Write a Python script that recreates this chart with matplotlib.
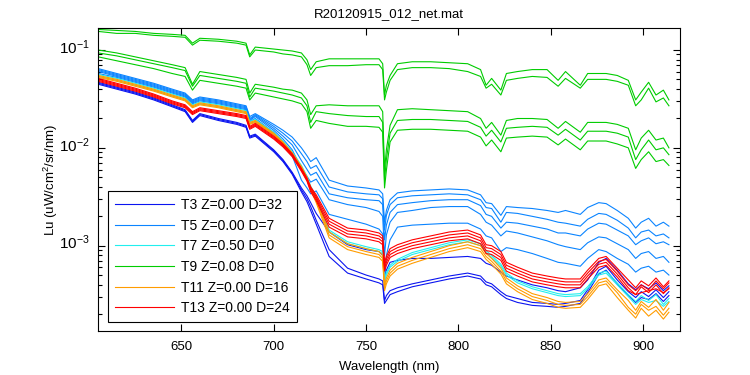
import numpy as np
import matplotlib
matplotlib.use("Agg")
import matplotlib.pyplot as plt
import matplotlib.transforms as mtransforms
from matplotlib.ticker import FuncFormatter, LogLocator, NullFormatter

plt.rcParams['font.family'] = ['Liberation Sans', 'DejaVu Sans']
plt.rcParams['mathtext.fontset'] = 'custom'
plt.rcParams['mathtext.rm'] = 'Liberation Sans'
plt.rcParams['mathtext.it'] = 'Liberation Sans:italic'
plt.rcParams['mathtext.default'] = 'regular'

# wavelength grid (nm) shared by all spectra
wavelength = [605, 615, 625, 635, 645, 652, 656, 660, 670, 680,
              685, 687, 690, 700, 705, 710, 715, 718, 720, 723,
              730, 740, 750, 757, 759, 760, 761, 763, 767, 775,
              785, 795, 805, 812, 815, 818, 823, 826, 832, 840,
              848, 854, 858, 866, 870, 876, 880, 886, 892, 896,
              899, 903, 907, 911, 914]

# log10 of Lu, one row per cast
t3_log = [
    [-1.33, -1.38, -1.43, -1.49, -1.56, -1.61, -1.72, -1.65, -1.70, -1.74,
     -1.77, -1.88, -1.86, -2.02, -2.12, -2.25, -2.41, -2.49, -2.56, -2.67,
     -2.86, -2.99, -3.04, -3.06, -3.10, -3.30, -3.25, -3.17, -3.15, -3.13,
     -3.13, -3.12, -3.11, -3.13, -3.18, -3.20, -3.27, -3.31, -3.35, -3.40,
     -3.43, -3.46, -3.47, -3.43, -3.35, -3.17, -3.13, -3.25, -3.39, -3.45,
     -3.40, -3.44, -3.38, -3.46, -3.41],
    [-1.34, -1.39, -1.44, -1.50, -1.57, -1.62, -1.73, -1.66, -1.71, -1.75,
     -1.78, -1.89, -1.87, -2.03, -2.13, -2.26, -2.43, -2.52, -2.60, -2.74,
     -3.04, -3.23, -3.30, -3.34, -3.36, -3.56, -3.51, -3.46, -3.43, -3.39,
     -3.35, -3.31, -3.28, -3.31, -3.37, -3.39, -3.47, -3.51, -3.54, -3.58,
     -3.59, -3.60, -3.59, -3.56, -3.45, -3.25, -3.21, -3.35, -3.47, -3.53,
     -3.47, -3.52, -3.45, -3.53, -3.47],
    [-1.35, -1.40, -1.45, -1.51, -1.58, -1.63, -1.74, -1.67, -1.72, -1.76,
     -1.79, -1.90, -1.88, -2.04, -2.14, -2.27, -2.45, -2.55, -2.64, -2.78,
     -3.11, -3.28, -3.34, -3.38, -3.40, -3.59, -3.56, -3.50, -3.47, -3.42,
     -3.38, -3.34, -3.31, -3.34, -3.40, -3.42, -3.50, -3.54, -3.58, -3.61,
     -3.62, -3.63, -3.62, -3.59, -3.48, -3.29, -3.25, -3.39, -3.51, -3.58,
     -3.53, -3.55, -3.49, -3.57, -3.51],
]

t5_log = [
    [-1.19, -1.24, -1.29, -1.34, -1.40, -1.44, -1.51, -1.48, -1.51, -1.55,
     -1.57, -1.68, -1.65, -1.76, -1.82, -1.89, -2.00, -2.08, -2.14, -2.10,
     -2.33, -2.39, -2.41, -2.43, -2.47, -2.76, -2.64, -2.53, -2.46, -2.44,
     -2.43, -2.42, -2.43, -2.48, -2.56, -2.57, -2.69, -2.60, -2.61, -2.62,
     -2.64, -2.66, -2.64, -2.68, -2.61, -2.56, -2.57, -2.64, -2.72, -2.82,
     -2.76, -2.72, -2.80, -2.76, -2.80],
    [-1.20, -1.25, -1.30, -1.35, -1.41, -1.45, -1.52, -1.49, -1.52, -1.56,
     -1.58, -1.70, -1.66, -1.78, -1.85, -1.93, -2.06, -2.14, -2.21, -2.18,
     -2.40, -2.45, -2.47, -2.48, -2.52, -2.84, -2.69, -2.58, -2.51, -2.49,
     -2.48, -2.47, -2.48, -2.53, -2.61, -2.62, -2.76, -2.66, -2.67, -2.70,
     -2.73, -2.76, -2.77, -2.80, -2.73, -2.67, -2.68, -2.74, -2.82, -2.92,
     -2.86, -2.84, -2.90, -2.88, -2.92],
    [-1.21, -1.26, -1.31, -1.36, -1.42, -1.46, -1.53, -1.50, -1.53, -1.57,
     -1.59, -1.71, -1.67, -1.80, -1.88, -1.97, -2.13, -2.22, -2.28, -2.25,
     -2.47, -2.51, -2.53, -2.54, -2.58, -2.94, -2.79, -2.66, -2.58, -2.56,
     -2.54, -2.53, -2.53, -2.59, -2.68, -2.70, -2.82, -2.76, -2.77, -2.80,
     -2.83, -2.87, -2.87, -2.90, -2.83, -2.77, -2.78, -2.84, -2.90, -2.99,
     -2.95, -2.92, -2.98, -2.96, -2.99],
    [-1.22, -1.27, -1.32, -1.37, -1.43, -1.47, -1.54, -1.51, -1.54, -1.58,
     -1.60, -1.72, -1.68, -1.82, -1.91, -2.02, -2.21, -2.29, -2.35, -2.32,
     -2.53, -2.58, -2.61, -2.65, -2.70, -3.10, -2.89, -2.76, -2.66, -2.64,
     -2.61, -2.60, -2.60, -2.68, -2.76, -2.79, -2.90, -2.85, -2.87, -2.91,
     -2.95, -2.99, -3.01, -3.04, -2.97, -2.91, -2.92, -2.98, -3.04, -3.13,
     -3.08, -3.06, -3.13, -3.11, -3.17],
    [-1.24, -1.28, -1.33, -1.38, -1.44, -1.48, -1.55, -1.52, -1.55, -1.59,
     -1.61, -1.73, -1.70, -1.84, -1.95, -2.08, -2.33, -2.41, -2.47, -2.44,
     -2.68, -2.73, -2.78, -2.83, -2.88, -3.40, -3.10, -2.94, -2.81, -2.79,
     -2.78, -2.77, -2.77, -2.83, -2.90, -2.92, -3.06, -3.02, -3.04, -3.08,
     -3.13, -3.17, -3.18, -3.21, -3.13, -3.04, -3.06, -3.13, -3.19, -3.27,
     -3.23, -3.21, -3.27, -3.25, -3.30],
]

t7_log = [
    [-1.25, -1.29, -1.34, -1.39, -1.45, -1.49, -1.56, -1.53, -1.56, -1.60,
     -1.62, -1.73, -1.71, -1.84, -1.93, -2.04, -2.18, -2.29, -2.39, -2.50,
     -2.84, -2.96, -3.01, -3.04, -3.06, -3.35, -3.28, -3.20, -3.14, -3.07,
     -3.02, -2.97, -2.94, -2.98, -3.05, -3.10, -3.19, -3.28, -3.36, -3.42,
     -3.46, -3.49, -3.50, -3.49, -3.42, -3.28, -3.26, -3.38, -3.50, -3.57,
     -3.51, -3.56, -3.50, -3.60, -3.54],
    [-1.27, -1.31, -1.36, -1.41, -1.47, -1.51, -1.58, -1.55, -1.58, -1.62,
     -1.64, -1.75, -1.73, -1.86, -1.95, -2.06, -2.20, -2.31, -2.41, -2.52,
     -2.86, -2.98, -3.03, -3.06, -3.08, -3.37, -3.30, -3.22, -3.16, -3.09,
     -3.04, -2.99, -2.96, -3.00, -3.07, -3.12, -3.21, -3.30, -3.38, -3.44,
     -3.48, -3.51, -3.52, -3.51, -3.44, -3.30, -3.28, -3.40, -3.52, -3.60,
     -3.55, -3.58, -3.56, -3.62, -3.57],
]

t9_log = [
    [-0.79, -0.80, -0.81, -0.83, -0.84, -0.85, -0.93, -0.88, -0.89, -0.91,
     -0.93, -1.05, -0.97, -0.99, -1.00, -1.01, -1.03, -1.10, -1.20, -1.12,
     -1.09, -1.09, -1.09, -1.09, -1.14, -1.46, -1.36, -1.26, -1.14, -1.12,
     -1.12, -1.13, -1.14, -1.20, -1.36, -1.29, -1.41, -1.24, -1.22, -1.20,
     -1.20, -1.31, -1.22, -1.36, -1.24, -1.24, -1.24, -1.26, -1.31, -1.51,
     -1.43, -1.33, -1.46, -1.41, -1.51],
    [-0.81, -0.83, -0.83, -0.85, -0.86, -0.87, -0.95, -0.90, -0.91, -0.93,
     -0.95, -1.07, -1.00, -1.02, -1.04, -1.05, -1.07, -1.15, -1.26, -1.18,
     -1.16, -1.16, -1.15, -1.15, -1.20, -1.51, -1.43, -1.31, -1.20, -1.18,
     -1.18, -1.19, -1.22, -1.27, -1.39, -1.35, -1.46, -1.31, -1.29, -1.27,
     -1.28, -1.37, -1.29, -1.39, -1.30, -1.30, -1.30, -1.32, -1.36, -1.57,
     -1.51, -1.39, -1.53, -1.49, -1.57],
    [-1.00, -1.03, -1.07, -1.11, -1.15, -1.18, -1.35, -1.22, -1.25, -1.28,
     -1.30, -1.44, -1.35, -1.38, -1.40, -1.41, -1.44, -1.51, -1.66, -1.57,
     -1.56, -1.57, -1.57, -1.57, -1.63, -2.23, -2.02, -1.77, -1.61, -1.60,
     -1.61, -1.62, -1.63, -1.70, -1.80, -1.74, -1.87, -1.72, -1.70, -1.70,
     -1.71, -1.80, -1.73, -1.84, -1.74, -1.74, -1.74, -1.76, -1.80, -2.02,
     -1.90, -1.82, -1.92, -1.90, -2.00],
    [-1.03, -1.06, -1.10, -1.14, -1.18, -1.21, -1.37, -1.26, -1.29, -1.32,
     -1.34, -1.48, -1.39, -1.42, -1.44, -1.46, -1.49, -1.57, -1.74, -1.63,
     -1.65, -1.67, -1.68, -1.68, -1.74, -2.33, -2.12, -1.85, -1.72, -1.71,
     -1.71, -1.72, -1.73, -1.79, -1.88, -1.82, -1.94, -1.80, -1.79, -1.78,
     -1.79, -1.87, -1.81, -1.92, -1.83, -1.83, -1.83, -1.85, -1.89, -2.12,
     -2.02, -1.92, -2.02, -2.00, -2.07],
    [-1.07, -1.11, -1.15, -1.19, -1.24, -1.27, -1.41, -1.31, -1.34, -1.37,
     -1.39, -1.51, -1.44, -1.48, -1.50, -1.52, -1.55, -1.63, -1.80, -1.72,
     -1.75, -1.78, -1.78, -1.79, -1.84, -2.41, -2.23, -1.94, -1.82, -1.81,
     -1.81, -1.82, -1.83, -1.89, -1.98, -1.92, -2.04, -1.90, -1.89, -1.88,
     -1.89, -1.97, -1.91, -2.02, -1.93, -1.93, -1.93, -1.96, -2.00, -2.21,
     -2.12, -2.04, -2.14, -2.12, -2.18],
]

t11_log = [
    [-1.26, -1.30, -1.35, -1.40, -1.46, -1.50, -1.57, -1.54, -1.57, -1.61,
     -1.63, -1.74, -1.72, -1.85, -1.94, -2.05, -2.19, -2.30, -2.40, -2.52,
     -2.86, -2.98, -3.03, -3.06, -3.10, -3.40, -3.33, -3.25, -3.18, -3.12,
     -3.06, -3.00, -2.96, -3.00, -3.08, -3.13, -3.23, -3.33, -3.41, -3.49,
     -3.53, -3.57, -3.58, -3.57, -3.49, -3.35, -3.33, -3.45, -3.56, -3.66,
     -3.57, -3.63, -3.55, -3.66, -3.58],
    [-1.27, -1.31, -1.36, -1.41, -1.47, -1.51, -1.58, -1.55, -1.58, -1.62,
     -1.64, -1.75, -1.73, -1.86, -1.95, -2.06, -2.20, -2.31, -2.41, -2.54,
     -2.89, -3.01, -3.06, -3.09, -3.13, -3.43, -3.36, -3.28, -3.21, -3.15,
     -3.09, -3.03, -2.99, -3.03, -3.11, -3.16, -3.26, -3.36, -3.44, -3.52,
     -3.56, -3.60, -3.61, -3.60, -3.52, -3.38, -3.36, -3.48, -3.63, -3.70,
     -3.60, -3.66, -3.62, -3.71, -3.64],
    [-1.28, -1.32, -1.37, -1.42, -1.48, -1.52, -1.59, -1.56, -1.59, -1.63,
     -1.65, -1.76, -1.74, -1.87, -1.96, -2.07, -2.21, -2.32, -2.43, -2.56,
     -2.92, -3.04, -3.09, -3.12, -3.16, -3.46, -3.39, -3.31, -3.24, -3.18,
     -3.12, -3.06, -3.02, -3.06, -3.14, -3.19, -3.29, -3.39, -3.47, -3.55,
     -3.59, -3.63, -3.64, -3.63, -3.55, -3.41, -3.39, -3.53, -3.66, -3.74,
     -3.64, -3.72, -3.66, -3.75, -3.68],
]

t13_log = [
    [-1.29, -1.34, -1.39, -1.45, -1.52, -1.56, -1.63, -1.59, -1.62, -1.65,
     -1.67, -1.78, -1.75, -1.88, -1.96, -2.06, -2.21, -2.31, -2.40, -2.48,
     -2.72, -2.82, -2.84, -2.87, -2.90, -3.17, -3.11, -3.03, -2.99, -2.94,
     -2.90, -2.86, -2.84, -2.89, -2.99, -3.00, -3.06, -3.17, -3.22, -3.28,
     -3.31, -3.33, -3.34, -3.34, -3.25, -3.13, -3.11, -3.23, -3.35, -3.43,
     -3.36, -3.41, -3.33, -3.42, -3.36],
    [-1.30, -1.35, -1.40, -1.46, -1.53, -1.57, -1.64, -1.60, -1.63, -1.66,
     -1.68, -1.79, -1.76, -1.89, -1.97, -2.07, -2.22, -2.32, -2.41, -2.50,
     -2.75, -2.85, -2.87, -2.90, -2.93, -3.20, -3.14, -3.06, -3.02, -2.97,
     -2.93, -2.89, -2.87, -2.92, -3.02, -3.03, -3.09, -3.20, -3.25, -3.31,
     -3.34, -3.36, -3.37, -3.37, -3.28, -3.16, -3.14, -3.26, -3.40, -3.46,
     -3.40, -3.45, -3.36, -3.44, -3.38],
    [-1.31, -1.36, -1.41, -1.47, -1.54, -1.58, -1.65, -1.61, -1.64, -1.67,
     -1.69, -1.80, -1.77, -1.90, -1.98, -2.08, -2.23, -2.33, -2.43, -2.52,
     -2.78, -2.88, -2.90, -2.93, -2.96, -3.23, -3.17, -3.09, -3.05, -3.00,
     -2.96, -2.92, -2.90, -2.95, -3.05, -3.06, -3.12, -3.23, -3.28, -3.34,
     -3.37, -3.39, -3.40, -3.40, -3.31, -3.19, -3.17, -3.29, -3.43, -3.50,
     -3.42, -3.48, -3.40, -3.49, -3.43],
    [-1.32, -1.37, -1.42, -1.48, -1.55, -1.59, -1.66, -1.62, -1.65, -1.68,
     -1.70, -1.81, -1.78, -1.91, -1.99, -2.09, -2.24, -2.34, -2.45, -2.54,
     -2.81, -2.91, -2.93, -2.96, -2.99, -3.26, -3.20, -3.12, -3.08, -3.03,
     -2.99, -2.95, -2.93, -2.98, -3.08, -3.09, -3.15, -3.26, -3.31, -3.37,
     -3.40, -3.42, -3.43, -3.43, -3.34, -3.22, -3.20, -3.32, -3.46, -3.50,
     -3.48, -3.46, -3.44, -3.48, -3.44],
]

labels = ["T3 Z=0.00 D=32", "T5 Z=0.00 D=7", "T7 Z=0.50 D=0",
          "T9 Z=0.08 D=0", "T11 Z=0.00 D=16", "T13 Z=0.00 D=24"]
colors = ["#0a14f0", "#0a84ff", "#22eeee", "#00cc00", "#ff9c00", "#ff0000"]
series = [t3_log, t5_log, t7_log, t9_log, t11_log, t13_log]

fig = plt.figure(figsize=(7.5, 3.75), dpi=100)
ax = fig.add_axes([98.3 / 750, 1 - 331.3 / 375, (680 - 98.3) / 750, 303 / 375])

handles = []
for rows, color in zip(series, colors):
    for i, row in enumerate(rows):
        line, = ax.plot(wavelength, 10 ** np.array(row), color=color, lw=0.8)
        if i == 0:
            handles.append(line)

ax.set_yscale('log')
ax.set_xlim(605, 920)
ax.set_ylim(10 ** -3.875, 10 ** -0.778)
ax.set_xticks([650, 700, 750, 800, 850, 900])
ax.yaxis.set_major_locator(LogLocator(base=10))
ax.yaxis.set_minor_locator(LogLocator(base=10, subs=np.arange(2, 10)))
ax.yaxis.set_minor_formatter(NullFormatter())
ax.yaxis.set_major_formatter(FuncFormatter(lambda v, p: r'$10^{%d}$' % round(np.log10(v))))

ax.tick_params(which='both', direction='in', top=True, right=True, width=0.8)
ax.tick_params(which='major', length=5)
ax.tick_params(which='minor', length=3)
ax.tick_params(axis='x', labelsize=9.5, pad=7)
ax.tick_params(axis='y', labelsize=11, pad=6)
for s in ax.spines.values():
    s.set_linewidth(0.8)

ax.set_xlabel("Wavelength (nm)", fontsize=9.5, labelpad=6)
ax.set_ylabel("Lu (uW/cm$^2$/sr/nm)", fontsize=9.5)
ax.yaxis.set_label_coords(-0.066, 0.5)
ax.set_title("R20120915_012_net.mat", fontsize=9.5, pad=8)

leg = ax.legend(handles, labels, loc='lower left',
                bbox_to_anchor=(108.3 / 750, 1 - 322.3 / 375),
                bbox_transform=fig.transFigure, fancybox=False,
                edgecolor='black', framealpha=1, fontsize=10,
                handlelength=4.2, handletextpad=0.55, labelspacing=0.48,
                borderpad=0.5, borderaxespad=0)
leg.get_frame().set_linewidth(0.8)

# MATLAB puts the base "10" on the tick, exponent above it
fig.canvas.draw()
shift = mtransforms.ScaledTranslation(0, 4 / 100, fig.dpi_scale_trans)
for lab in ax.get_yticklabels():
    lab.set_transform(lab.get_transform() + shift)

fig.savefig("out.png", dpi=100)
